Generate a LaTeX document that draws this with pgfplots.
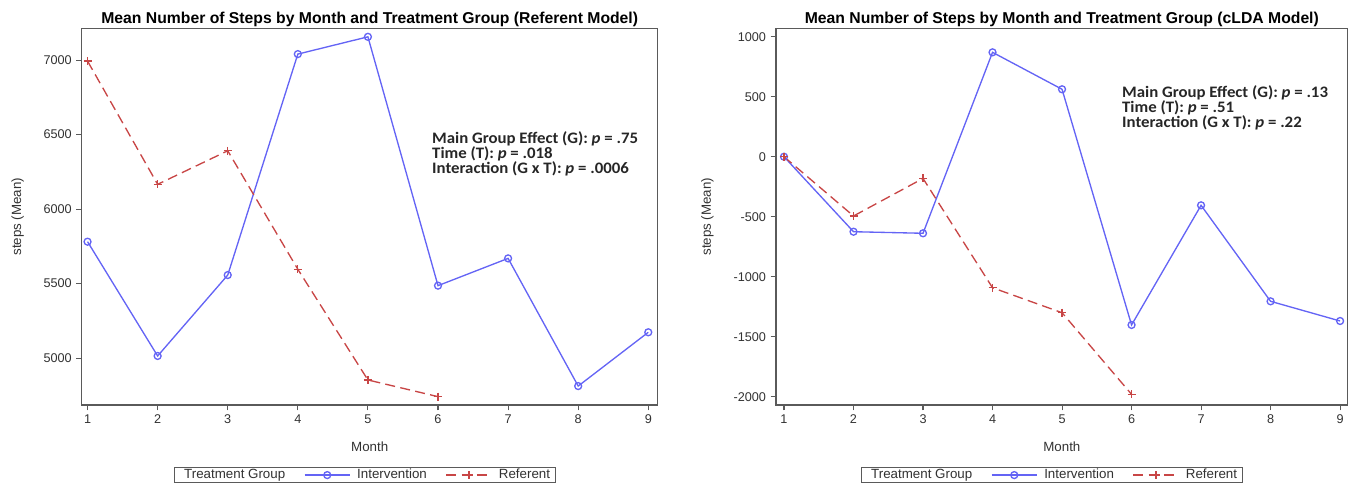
\documentclass[border=0pt]{standalone}
\usepackage{pgfplots}
\pgfplotsset{compat=1.18}
\usepackage{fontspec}
\setmainfont{Liberation Sans}
\newfontfamily\calib[FakeStretch=1.05]{Carlito}
\definecolor{intblue}{RGB}{100,100,245}
\definecolor{refred}{RGB}{200,70,70}
\definecolor{framegray}{RGB}{90,90,90}
\definecolor{txtgray}{RGB}{50,50,50}
\pgfplotsset{
  mystyle/.style={
    scale only axis,
    height=282.5pt,
    tick align=outside, major tick length=4pt,
    tick pos=left,
    axis line style={framegray, line width=0.8pt},
    every tick/.style={framegray, line width=0.8pt},
    tick label style={font=\fontsize{9.5}{11}\selectfont, text=txtgray},
    /pgf/number format/assume math mode=true,
    /pgf/number format/set thousands separator={},
    xtick={1,...,9},
    xlabel={Month}, ylabel={steps (Mean)},
    label style={font=\fontsize{10}{12}\selectfont, text=txtgray},
    xlabel style={at={(axis description cs:0.5,-0.1115)}, anchor=center},
    title style={font=\bfseries\fontsize{11.8}{13}\selectfont, at={(axis description cs:0.5,1)}, anchor=base, yshift=-2.5pt},
    legend columns=-1,
    legend style={anchor=north, draw=framegray, line width=0.8pt,
      font=\fontsize{10}{12}\selectfont, text=txtgray, inner xsep=2pt, inner ysep=0.5pt,
      nodes={inner ysep=0.8pt, inner xsep=2pt},
      /tikz/every even column/.append style={column sep=12pt},
      /tikz/every odd column/.append style={column sep=3pt}},
    legend image code/.code={\draw[mark repeat=2,mark phase=2,#1] plot coordinates {(0pt,0pt) (17pt,0pt) (34pt,0pt)};},
  },
  intstyle/.style={intblue, line width=1pt, mark=o, mark size=2.6pt, mark options={solid}},
  refstyle/.style={refred, line width=1pt, dash pattern=on 7.5pt off 4pt, mark=+, mark size=3pt, mark options={solid}},
}
\begin{document}
\begin{tikzpicture}
\path[use as bounding box] (0pt,0pt) rectangle (1017pt,368.25pt);
\begin{axis}[mystyle,
  at={(61.3pt,64.5pt)}, anchor=south west,
  width=432pt,
  xmin=0.917, xmax=9.135, ymin=4685, ymax=7213,
  ytick={5000,5500,6000,6500,7000},
  ylabel style={at={(axis description cs:-0.111,0.5)}, anchor=center},
  title={Mean Number of Steps by Month and Treatment Group (Referent Model)},
  legend style={at={(0.492,-0.1646)}},
]
\addlegendimage{empty legend}
\addplot[intstyle] coordinates {(1,5781) (2,5014) (3,5557) (4,7040) (5,7156) (6,5486) (7,5669) (8,4812) (9,5173)};
\addplot[refstyle] coordinates {(1,6993) (2,6166) (3,6391) (4,5596) (5,4853) (6,4741)};
\legend{Treatment Group, Intervention, Referent}
\node[anchor=north west, align=left, inner sep=0pt, text=black!85, font=\calib\bfseries\fontsize{12}{11.25}\selectfont]
  at (rel axis cs:0.608,0.727) {Main Group Effect (G): {\itshape p} = .75\\Time (T): {\itshape p} = .018\\Interaction (G x T): {\itshape p} = .0006};
\end{axis}
\begin{axis}[mystyle,
  at={(582pt,64.5pt)}, anchor=south west,
  width=428.8pt,
  xmin=0.885, xmax=9.11, ymin=-2069, ymax=1070,
  ytick={-2000,-1500,-1000,-500,0,500,1000},
  ylabel style={at={(axis description cs:-0.12,0.5)}, anchor=center},
  title={Mean Number of Steps by Month and Treatment Group (cLDA Model)},
  legend style={at={(0.483,-0.1646)}},
]
\addlegendimage{empty legend}
\addplot[intstyle] coordinates {(1,0) (2,-625) (3,-638) (4,870) (5,562) (6,-1402) (7,-405) (8,-1205) (9,-1369)};
\addplot[refstyle] coordinates {(1,0) (2,-494) (3,-181) (4,-1092) (5,-1300) (6,-1980)};
\legend{Treatment Group, Intervention, Referent}
\node[anchor=north west, align=left, inner sep=0pt, text=black!85, font=\calib\bfseries\fontsize{12}{11.25}\selectfont]
  at (rel axis cs:0.605,0.849) {Main Group Effect (G): {\itshape p} = .13\\Time (T): {\itshape p} = .51\\Interaction (G x T): {\itshape p} = .22};
\end{axis}
\end{tikzpicture}
\end{document}
